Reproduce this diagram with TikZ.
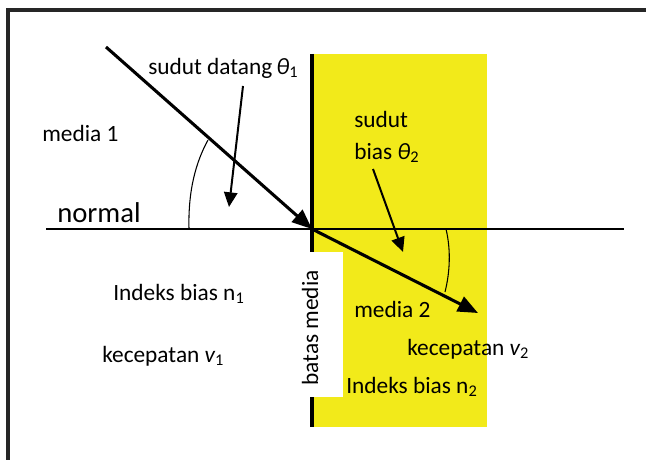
\documentclass[tikz,border=0pt]{standalone}
\usepackage{fontspec}
\setmainfont{Carlito}
\usepackage{xcolor}
\usetikzlibrary{arrows.meta}
\definecolor{mediayellow}{RGB}{242,234,26}

\begin{document}
\begin{tikzpicture}[x=0.75pt,y=-0.75pt,
  every node/.style={font=\fontsize{17.5}{21}\selectfont,inner sep=0pt},
  ray/.style={line width=2.3pt,-{Triangle[length=15pt,width=12pt]}},
  pointer/.style={line width=1.5pt,-{Triangle[length=11pt,width=10pt]}},
  anglearc/.style={line width=0.8pt}]
\clip (0,0) rectangle (646,460);
\fill[white] (0,0) rectangle (646,460);
\draw[line width=2.3pt,black!85] (8,10) rectangle (680,490);
% second medium
\fill[mediayellow] (312,54) rectangle (487,427);
\draw[line width=2.3pt] (312,54) -- (312,427);
\fill[white] (300,252) rectangle (343,397);
\node[rotate=90] (batas) at (310,328) {batas media};
% normal line and rays
\coordinate (nleft) at (46,229);
\coordinate (nright) at (624,229);
\coordinate (hit) at (312,229);
\coordinate (src) at (106,47);
\coordinate (dst) at (478,313);
\draw[line width=0.8pt] (nleft) -- (nright);
\draw[ray] (src) -- (hit);
\draw[ray] (hit) -- (dst);
% angles
\draw[anglearc] (189,229) .. controls (188,190) and (196,162) .. (208,140);
\draw[anglearc] (446,229) .. controls (451,250) and (450,272) .. (445,292);
% labels
\node[anchor=west] (datang) at (148,68) {sudut datang\,{\itshape θ}\textsubscript{1}};
\node[anchor=west] (media1) at (42,133) {media 1};
\node[anchor=west,font=\fontsize{21.5}{25}\selectfont] (normal) at (57,213) {normal};
\node[anchor=west] (sudut) at (354,119) {sudut};
\node[anchor=west] (bias) at (354,153) {bias {\itshape θ}\textsubscript{2}};
\node[anchor=west] (indeks1) at (113,294) {Indeks bias n\textsubscript{1}};
\node[anchor=west] (kec1) at (102,356) {kecepatan {\itshape v}\textsubscript{1}};
\node[anchor=west] (media2) at (354,309) {media 2};
\node[anchor=west] (kec2) at (407,349) {kecepatan {\itshape v}\textsubscript{2}};
\node[anchor=west] (indeks2) at (346,387) {Indeks bias n\textsubscript{2}};
% pointers to the angles
\coordinate (tip1) at (229,207);
\coordinate (tip2) at (403,252);
\draw[pointer] (243,86) -- (tip1);
\draw[pointer] (373,169) -- (tip2);
\end{tikzpicture}
\end{document}
